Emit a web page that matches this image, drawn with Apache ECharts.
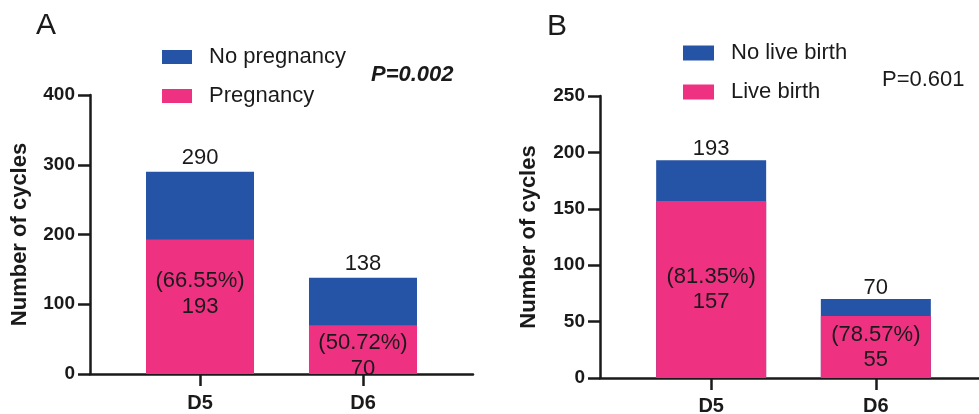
<!DOCTYPE html>
<html>
<head>
<meta charset="utf-8">
<script src="https://cdn.jsdelivr.net/npm/echarts@6/dist/echarts.min.js"></script>
<style>
  html, body { margin: 0; padding: 0; background: #fff; }
  #main { width: 979px; height: 414px; }
</style>
</head>
<body>
<div id="main"></div>
<script>
// data
var categories = ['D5', 'D6'];
var pregnancy = [193, 70];
var totalA = [290, 138];
var liveBirth = [157, 55];
var totalB = [193, 70];
var legendA = ['No pregnancy', 'Pregnancy'];
var legendB = ['No live birth', 'Live birth'];
var pA = 'P=0.002';
var pB = 'P=0.601';

var blue = '#2553A5';
var pink = '#EE3181';
var ink = '#1a1a1a';
var font = 'Liberation Sans, Arial, sans-serif';
// small vertical nudge of the inner labels in panel A
var innerShiftA = [-13, 6];

function pct(a, b) {
    return '(' + (a / b * 100).toFixed(2) + '%)';
}

function xAxisOf(grid, margin) {
    return {
        type: 'value', gridIndex: grid, min: -0.675, max: 1.675,
        splitLine: { show: false },
        axisLine: { show: true, lineStyle: { color: ink, width: 2.5 } },
        axisTick: { show: true, customValues: [0, 1], length: 12, lineStyle: { color: ink, width: 2.5 } },
        axisLabel: {
            customValues: [0, 1], margin: margin,
            formatter: function (v) { return categories[Math.round(v)]; },
            color: ink, fontFamily: font, fontSize: 20, fontWeight: 'bold'
        }
    };
}

function yAxisOf(grid, max, step, gap) {
    return {
        type: 'value', gridIndex: grid, min: 0, max: max, interval: step,
        name: 'Number of cycles', nameLocation: 'middle', nameGap: gap,
        nameTextStyle: { color: ink, fontFamily: font, fontSize: 22, fontWeight: 'bold' },
        splitLine: { show: false },
        axisLine: { show: true, onZero: false, lineStyle: { color: ink, width: 2.5 } },
        axisTick: { show: true, length: 12, lineStyle: { color: ink, width: 2.5 } },
        axisLabel: { margin: 15, color: ink, fontFamily: font, fontSize: 19, fontWeight: 'bold' }
    };
}

function legendOf(names, left, top, w, h) {
    return {
        data: names, orient: 'vertical', left: left, top: top, padding: 0,
        icon: 'rect', itemWidth: w, itemHeight: h, itemGap: 17,
        textStyle: { color: ink, fontFamily: font, fontSize: 22, padding: [0, 0, 0, 12] }
    };
}

// the whole bar (blue) drawn first, the inner part (pink) drawn over it
function barSeries(grid, inner, total, names, width, shift, topDist, lh) {
    return [
        {
            name: names[0], type: 'bar', barGap: '-100%',
            xAxisIndex: grid, yAxisIndex: grid, barWidth: width,
            itemStyle: { color: blue },
            label: {
                show: true, position: 'top', distance: topDist, color: ink,
                fontFamily: font, fontSize: 22,
                formatter: function (p) { return p.value[1]; }
            },
            data: total.map(function (t, i) { return [i, t]; })
        },
        {
            name: names[1], type: 'bar', barGap: '-100%',
            xAxisIndex: grid, yAxisIndex: grid, barWidth: width,
            itemStyle: { color: pink },
            label: {
                show: true, position: 'inside', color: ink, fontFamily: font,
                fontSize: 22, lineHeight: lh,
                formatter: function (p) {
                    var i = p.value[0];
                    return pct(inner[i], total[i]) + '\n' + inner[i];
                }
            },
            data: inner.map(function (v, i) {
                var d = { value: [i, v] };
                if (shift) d.label = { offset: [0, shift[i]] };
                return d;
            })
        }
    ];
}

var option = {
    animation: false,
    title: [
        { text: 'A', left: 36, top: 11, padding: 0, textStyle: { color: ink, fontFamily: font, fontSize: 30, fontWeight: 'normal' } },
        { text: 'B', left: 547, top: 12, padding: 0, textStyle: { color: ink, fontFamily: font, fontSize: 30, fontWeight: 'normal' } },
        { text: pA, left: 371, top: 64, padding: 0, textStyle: { color: ink, fontFamily: font, fontSize: 22, fontWeight: 'bold', fontStyle: 'italic' } },
        { text: pB, left: 882, top: 69, padding: 0, textStyle: { color: ink, fontFamily: font, fontSize: 22, fontWeight: 'normal' } }
    ],
    legend: [
        legendOf(legendA, 162, 46, 30, 14),
        legendOf(legendB, 683, 42, 31, 15)
    ],
    grid: [
        { left: 90, top: 95, width: 383, height: 279, outerBoundsMode: 'none' },
        { left: 600, top: 96, width: 387, height: 282, outerBoundsMode: 'none' }
    ],
    xAxis: [xAxisOf(0, 19), xAxisOf(1, 18)],
    yAxis: [yAxisOf(0, 400, 100, 59), yAxisOf(1, 250, 50, 60)],
    series: barSeries(0, pregnancy, totalA, legendA, 108, innerShiftA, 3, 26)
        .concat(barSeries(1, liveBirth, totalB, legendB, 110, null, 0, 25))
};

var myChart = echarts.init(document.getElementById('main'));
myChart.setOption(option);
</script>
</body>
</html>
